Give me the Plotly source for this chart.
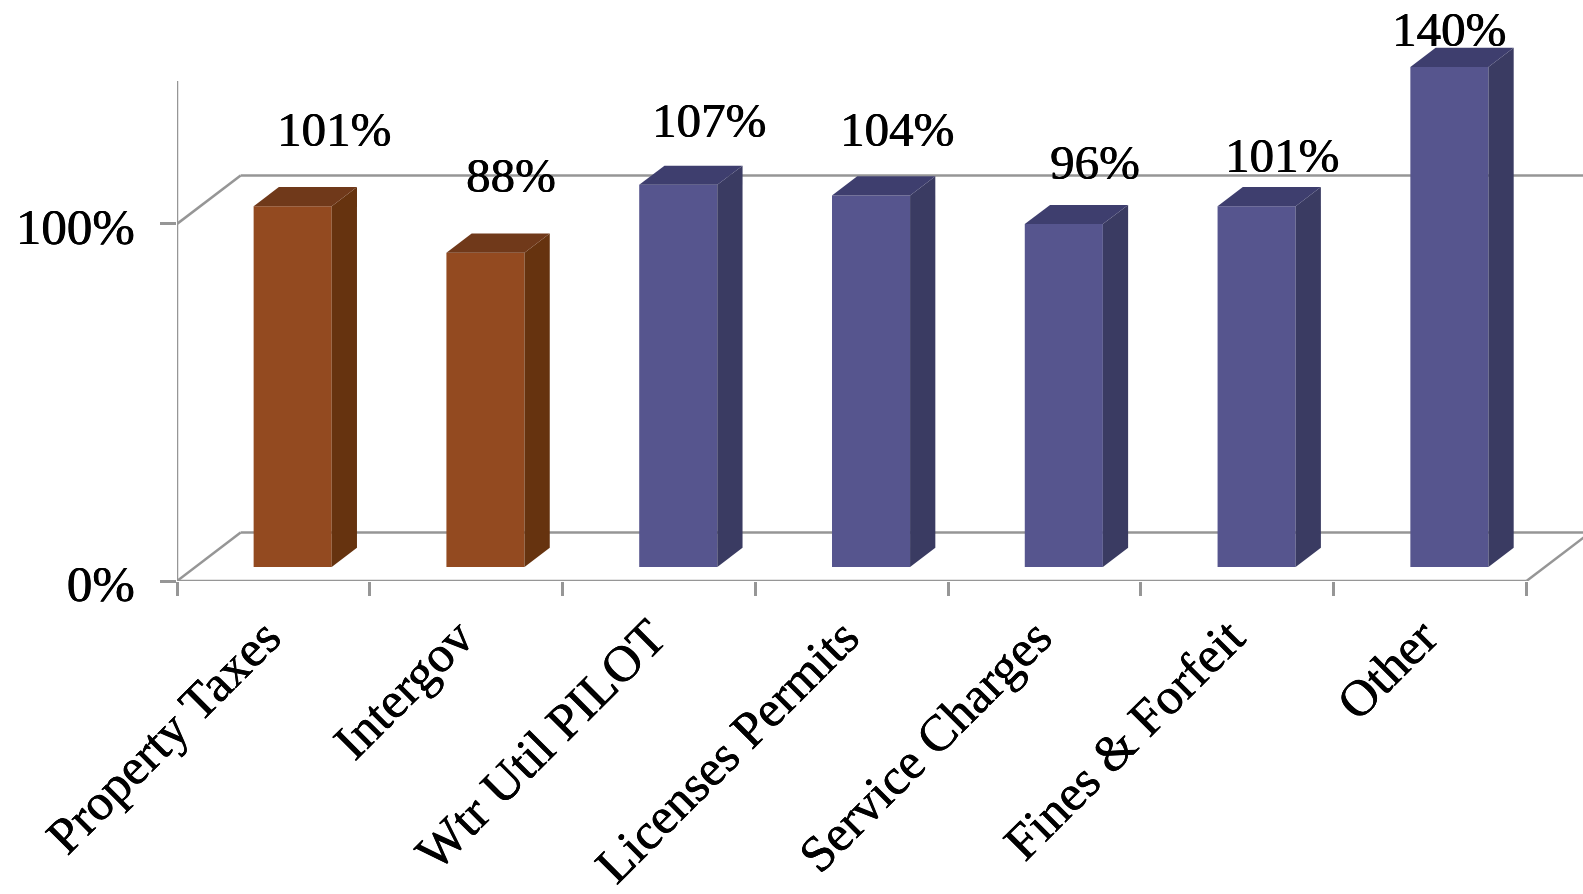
import plotly.graph_objects as go

categories = ["Property Taxes", "Intergov", "Wtr Util PILOT", "Licenses Permits",
              "Service Charges", "Fines & Forfeit", "Other"]
percent_values = [101, 88, 107, 104, 96, 101, 140]
y_tick_values = [0, 100]
y_tick_labels = ["0%", "100%"]

# Oblique projection, in axis units: how far the back wall and the bars sit from the front plane
WALL_DX, WALL_DY = 0.33, 13.56
BAR_DX, BAR_LIFT = 0.1, 3.95
BAR_DEPTH_X, BAR_DEPTH_Y = 0.131, 5.37
BAR_WIDTH = 0.405
AXIS_TOP = 140

# Hand placement of the value labels, pixels from the bar's back-top edge
label_shift_x = [41, 26, 31, 26, 31, 25, 0]
label_shift_y = [58, 58, 45, 47, 42, 32, 18]

FRONT = ["#934A20", "#934A20"] + ["#56558E"] * 5
SIDE = ["#66330F", "#66330F"] + ["#3A3B62"] * 5
TOP = ["#70391A", "#70391A"] + ["#3E3E6E"] * 5
GRID = "#969696"
FONT = "Liberation Serif"
# A faint offset shadow gives the serif text its heavier stroke
TEXT_WEIGHT = "0.45px 0 0 #000000, -0.2px 0 0 #000000"

W, H = 1583, 894
LEFT, RIGHT_TICK = 176.7, 1526.5
ZERO_Y, UNITS_PER_PX = 581.5, 1 / 3.574
unit_x = (RIGHT_TICK - LEFT) / len(categories)
x_max = (W - LEFT) / unit_x
y_max = ZERO_Y * UNITS_PER_PX
n = len(categories)

fig = go.Figure()

# Front faces of the columns
centers = [i + 0.5 + BAR_DX for i in range(n)]
fig.add_trace(go.Bar(
    x=centers, y=percent_values, base=BAR_LIFT, width=BAR_WIDTH,
    marker=dict(color=FRONT, line_width=0), hoverinfo="skip",
))

# Side and top faces, projected from each column's value
for c, v, side, top in zip(centers, percent_values, SIDE, TOP):
    x0, x1 = c - BAR_WIDTH / 2, c + BAR_WIDTH / 2
    y0, y1 = BAR_LIFT, BAR_LIFT + v
    fig.add_trace(go.Scatter(
        x=[x1, x1 + BAR_DEPTH_X, x1 + BAR_DEPTH_X, x1, x1],
        y=[y0, y0 + BAR_DEPTH_Y, y1 + BAR_DEPTH_Y, y1, y0],
        fill="toself", fillcolor=side, mode="none", hoverinfo="skip",
    ))
    fig.add_trace(go.Scatter(
        x=[x0, x1, x1 + BAR_DEPTH_X, x0 + BAR_DEPTH_X, x0],
        y=[y1, y1, y1 + BAR_DEPTH_Y, y1 + BAR_DEPTH_Y, y1],
        fill="toself", fillcolor=top, mode="none", hoverinfo="skip",
    ))

# Axis lines, floor edge and the diagonals joining the front plane to the back wall
grid_line = dict(color=GRID, width=2.5)
fig.add_trace(go.Scatter(x=[0, n], y=[0, 0], mode="lines", line=grid_line,
                         cliponaxis=False, hoverinfo="skip"))
fig.add_trace(go.Scatter(x=[0, 0], y=[0, AXIS_TOP], mode="lines", line=grid_line,
                         cliponaxis=False, hoverinfo="skip"))
for tick in y_tick_values:
    fig.add_trace(go.Scatter(x=[0, WALL_DX], y=[tick, tick + WALL_DY], mode="lines",
                             line=grid_line, cliponaxis=False, hoverinfo="skip"))
fig.add_trace(go.Scatter(x=[n, n + WALL_DX], y=[0, WALL_DY], mode="lines",
                         line=grid_line, hoverinfo="skip"))

# Back wall gridlines sit behind the columns
shapes = [
    dict(type="line", xref="x", yref="y", layer="below",
         x0=WALL_DX, x1=x_max, y0=tick + WALL_DY, y1=tick + WALL_DY,
         line=grid_line)
    for tick in y_tick_values
]

annotations = [
    dict(x=c, y=BAR_LIFT + v + BAR_DEPTH_Y, xref="x", yref="y",
         text=f"{v}%", showarrow=False, xanchor="center", yanchor="middle",
         xshift=sx, yshift=sy,
         font=dict(family=FONT, size=49, color="#000000", shadow=TEXT_WEIGHT))
    for c, v, sx, sy in zip(centers, percent_values, label_shift_x, label_shift_y)
]

fig.update_layout(
    width=W, height=H, autosize=False,
    margin=dict(l=LEFT, r=0, t=0, b=H - ZERO_Y, pad=0, autoexpand=False),
    paper_bgcolor="#FFFFFF", plot_bgcolor="rgba(0,0,0,0)",
    showlegend=False, shapes=shapes, annotations=annotations,
    font=dict(family=FONT, color="#000000"), barmode="overlay",
    xaxis=dict(
        range=[0, x_max], showgrid=False, zeroline=False, showline=False,
        tickmode="array", tickvals=[i + 0.5 for i in range(n)], ticktext=categories,
        tickangle=-45, ticks="",
        tickfont=dict(family=FONT, size=51, color="#000000", shadow=TEXT_WEIGHT),
        ticklabelstandoff=15, ticklabelshift=-8,
        minor=dict(tickmode="array", tickvals=list(range(n + 1)), ticks="outside",
                   ticklen=14, tickwidth=2.5, tickcolor=GRID, showgrid=False),
    ),
    yaxis=dict(
        range=[0, y_max], showgrid=False, zeroline=False, showline=False,
        tickmode="array", tickvals=y_tick_values, ticktext=y_tick_labels,
        ticks="outside", ticklen=16, tickwidth=2.5, tickcolor=GRID,
        tickfont=dict(family=FONT, size=51, color="#000000", shadow=TEXT_WEIGHT),
        ticklabelstandoff=15, ticklabelshift=2,
    ),
)

fig.write_html("out.html")
